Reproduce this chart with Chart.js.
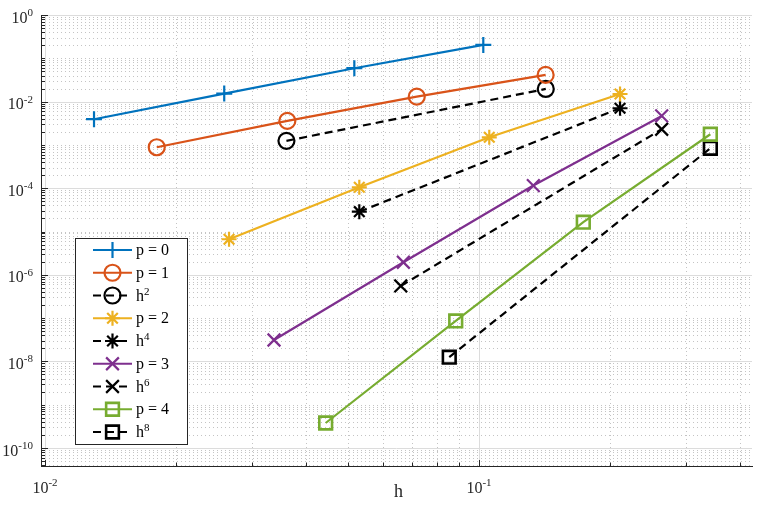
<!DOCTYPE html>
<html lang="en">
<head>
<meta charset="UTF-8">
<title>Convergence in h</title>
<script src="https://cdn.jsdelivr.net/npm/chart.js@4.4.1/dist/chart.umd.min.js"></script>
<style>
    html, body { margin: 0; padding: 0; background: #fff; }
    #wrap { position: relative; width: 772px; height: 512px; }
</style>
</head>
<body>
<div id="wrap"><canvas id="conv" width="772" height="512"></canvas></div>
<script>
// mesh size h and error for each degree p
const hP0 = [0.01297, 0.02588, 0.05161, 0.1023];
const errP0 = [3.92e-3, 1.53e-2, 5.90e-2, 0.204];

const hP1 = [0.01809, 0.03617, 0.07187, 0.1424];
const errP1 = [8.83e-4, 3.58e-3, 1.30e-2, 4.13e-2];
const hRef2 = [0.0360, 0.1425];
const errRef2 = [1.24e-3, 1.96e-2];

const hP2 = [0.02655, 0.05299, 0.1056, 0.2113];
const errP2 = [6.62e-6, 1.05e-4, 1.50e-3, 1.50e-2];
const hRef4 = [0.05299, 0.2113];
const errRef4 = [2.87e-5, 7.03e-3];

const hP3 = [0.0337, 0.06695, 0.1334, 0.2636];
const errP3 = [3.12e-8, 1.95e-6, 1.15e-4, 4.67e-3];
const hRef6 = [0.06603, 0.2636];
const errRef6 = [5.52e-7, 2.30e-3];

const hP4 = [0.04433, 0.08838, 0.1739, 0.3412];
const errP4 = [3.78e-10, 8.59e-8, 1.64e-5, 1.76e-3];
const hRef8 = [0.0854, 0.3412];
const errRef8 = [1.25e-8, 8.37e-4];

// axis limits and labelled decades
const xLimits = [0.00979, 0.4256];
const yLimits = [3.84e-11, 1];
const xLabelPowers = [-2, -1];
const yLabelPowers = [0, -2, -4, -6, -8, -10];

const SERIF = "'Liberation Serif', 'Times New Roman', serif";
const AXIS = '#262626';

function pts(xs, ys) {
    return xs.map((v, i) => ({ x: v, y: ys[i] }));
}

// 1..9 x 10^k between the limits, for grid lines and tick marks
function decadeSteps(lo, hi) {
    const out = [];
    for (let e = Math.floor(Math.log10(lo)); e <= Math.ceil(Math.log10(hi)); e++) {
        for (let m = 1; m <= 9; m++) {
            const v = m * Math.pow(10, e);
            if (v >= lo * 0.9999 && v <= hi * 1.0001) out.push(v);
        }
    }
    return out;
}

function isLabelled(v, powers) {
    return powers.some(p => Math.abs(Math.log10(v) - p) < 1e-6);
}

// "10" with a raised exponent; x is left edge
function drawPower(ctx, x, base, sup, baseY, supY, baseSize, supSize) {
    ctx.font = baseSize + 'px ' + SERIF;
    ctx.fillText(base, x, baseY);
    const w = ctx.measureText(base).width;
    ctx.font = supSize + 'px ' + SERIF;
    ctx.fillText(sup, x + w, supY);
}

function powerWidth(ctx, base, sup, baseSize, supSize) {
    ctx.font = baseSize + 'px ' + SERIF;
    const w1 = ctx.measureText(base).width;
    ctx.font = supSize + 'px ' + SERIF;
    return w1 + ctx.measureText(sup).width;
}

const matlabAxes = {
    id: 'matlabAxes',
    beforeDatasetsDraw(chart) {
        const { ctx, chartArea: a, scales: { x, y } } = chart;
        ctx.save();
        ctx.lineWidth = 1;
        const xs = decadeSteps(xLimits[0], xLimits[1]);
        const ys = decadeSteps(yLimits[0], yLimits[1]);

        // minor grid, dotted
        ctx.strokeStyle = '#c4c4c4';
        ctx.setLineDash([1, 3]);
        ctx.beginPath();
        xs.filter(v => !isLabelled(v, xLabelPowers)).forEach(v => {
            const px = Math.round(x.getPixelForValue(v)) + 0.5;
            ctx.moveTo(px, a.top); ctx.lineTo(px, a.bottom);
        });
        ys.filter(v => !isLabelled(v, yLabelPowers)).forEach(v => {
            const py = Math.round(y.getPixelForValue(v)) + 0.5;
            ctx.moveTo(a.left, py); ctx.lineTo(a.right, py);
        });
        ctx.stroke();

        // major grid, solid
        ctx.setLineDash([]);
        ctx.strokeStyle = '#dcdcdc';
        ctx.beginPath();
        xs.filter(v => isLabelled(v, xLabelPowers)).forEach(v => {
            const px = Math.round(x.getPixelForValue(v)) + 0.5;
            ctx.moveTo(px, a.top); ctx.lineTo(px, a.bottom);
        });
        ys.filter(v => isLabelled(v, yLabelPowers)).forEach(v => {
            const py = Math.round(y.getPixelForValue(v)) + 0.5;
            ctx.moveTo(a.left, py); ctx.lineTo(a.right, py);
        });
        ctx.stroke();
        ctx.restore();
    },
    afterDraw(chart) {
        const { ctx, chartArea: a, scales: { x, y } } = chart;
        ctx.save();

        // inward tick marks
        ctx.strokeStyle = AXIS;
        ctx.lineWidth = 1;
        ctx.beginPath();
        decadeSteps(xLimits[0], xLimits[1]).forEach(v => {
            const px = Math.round(x.getPixelForValue(v)) + 0.5;
            const len = isLabelled(v, xLabelPowers) ? 6 : 3.5;
            ctx.moveTo(px, a.bottom); ctx.lineTo(px, a.bottom - len);
        });
        decadeSteps(yLimits[0], yLimits[1]).forEach(v => {
            const py = Math.round(y.getPixelForValue(v)) + 0.5;
            const len = isLabelled(v, yLabelPowers) ? 7 : 4;
            ctx.moveTo(a.left, py); ctx.lineTo(a.left + len, py);
        });
        ctx.stroke();

        // tick labels
        ctx.fillStyle = AXIS;
        ctx.textAlign = 'left';
        ctx.textBaseline = 'alphabetic';
        xLabelPowers.forEach(p => {
            const px = x.getPixelForValue(Math.pow(10, p));
            const w = powerWidth(ctx, '10', String(p), 16, 11);
            drawPower(ctx, px - w / 2, '10', String(p), a.bottom + 27, a.bottom + 20, 16, 11);
        });
        yLabelPowers.forEach(p => {
            const py = y.getPixelForValue(Math.pow(10, p));
            const w = powerWidth(ctx, '10', String(p), 16, 11);
            drawPower(ctx, a.left - 8 - w, '10', String(p), py + 7.5, py + 1, 16, 11);
        });

        // axis label
        ctx.font = '18px ' + SERIF;
        ctx.textAlign = 'center';
        ctx.fillText('h', (a.left + a.right) / 2 + 2, a.bottom + 31);

        // legend box
        const box = { x: 75.5, y: 238.5, w: 112, h: 206 };
        ctx.fillStyle = '#fff';
        ctx.fillRect(box.x, box.y, box.w, box.h);
        ctx.strokeStyle = AXIS;
        ctx.lineWidth = 1;
        ctx.strokeRect(box.x, box.y, box.w, box.h);

        chart.data.datasets.forEach((ds, i) => {
            const cy = 250 + 22.75 * i;
            ctx.save();
            ctx.strokeStyle = ds.borderColor;
            ctx.lineWidth = ds.borderWidth;
            ctx.setLineDash(ds.borderDash || []);
            ctx.beginPath();
            ctx.moveTo(93, cy); ctx.lineTo(132, cy);
            ctx.stroke();
            ctx.setLineDash([]);
            ctx.fillStyle = 'rgba(0,0,0,0)';
            ctx.lineWidth = ds.pointBorderWidth;
            Chart.helpers.drawPoint(ctx, {
                pointStyle: ds.pointStyle, radius: ds.pointRadius, rotation: 0,
                borderWidth: ds.pointBorderWidth
            }, 112.5, cy);
            ctx.restore();

            const [base, sup] = ds.label.split('^');
            ctx.fillStyle = '#000';
            ctx.textAlign = 'left';
            if (sup) {
                drawPower(ctx, 136, base, sup, cy + 5, cy - 1, 16, 11);
            } else {
                ctx.font = '16px ' + SERIF;
                ctx.fillText(base, 136, cy + 5);
            }
        });
        ctx.restore();
    }
};

function series(label, xs, ys, color, style, radius, dashed) {
    return {
        label: label,
        data: pts(xs, ys),
        showLine: true,
        borderColor: color,
        backgroundColor: 'rgba(0,0,0,0)',
        borderWidth: 2.2,
        borderDash: dashed ? [8, 5] : [],
        pointStyle: style,
        pointRadius: radius,
        pointHoverRadius: radius,
        pointBorderWidth: style === 'rect' ? 2.6 : 2.2,
        pointBorderColor: color,
        pointBackgroundColor: 'rgba(0,0,0,0)'
    };
}

new Chart(document.getElementById('conv'), {
    type: 'scatter',
    data: {
        datasets: [
            series('p = 0', hP0, errP0, '#0072BD', 'cross', 8, false),
            series('p = 1', hP1, errP1, '#D95319', 'circle', 8, false),
            series('h^2', hRef2, errRef2, '#000000', 'circle', 8, true),
            series('p = 2', hP2, errP2, '#EDB120', 'star', 7.5, false),
            series('h^4', hRef4, errRef4, '#000000', 'star', 7.5, true),
            series('p = 3', hP3, errP3, '#7E2F8E', 'crossRot', 9, false),
            series('h^6', hRef6, errRef6, '#000000', 'crossRot', 9, true),
            series('p = 4', hP4, errP4, '#77AC30', 'rect', 9, false),
            series('h^8', hRef8, errRef8, '#000000', 'rect', 9, true)
        ]
    },
    options: {
        responsive: false,
        animation: false,
        devicePixelRatio: 1,
        layout: { padding: { left: 41, right: 20, top: 15, bottom: 46 } },
        plugins: { legend: { display: false }, tooltip: { enabled: false } },
        scales: {
            x: {
                type: 'logarithmic',
                min: xLimits[0],
                max: xLimits[1],
                ticks: { display: false },
                grid: { display: false, drawTicks: false },
                border: { display: true, color: AXIS, width: 1 }
            },
            y: {
                type: 'logarithmic',
                min: yLimits[0],
                max: yLimits[1],
                ticks: { display: false },
                grid: { display: false, drawTicks: false },
                border: { display: true, color: AXIS, width: 1 }
            }
        }
    },
    plugins: [matlabAxes]
});
</script>
</body>
</html>
